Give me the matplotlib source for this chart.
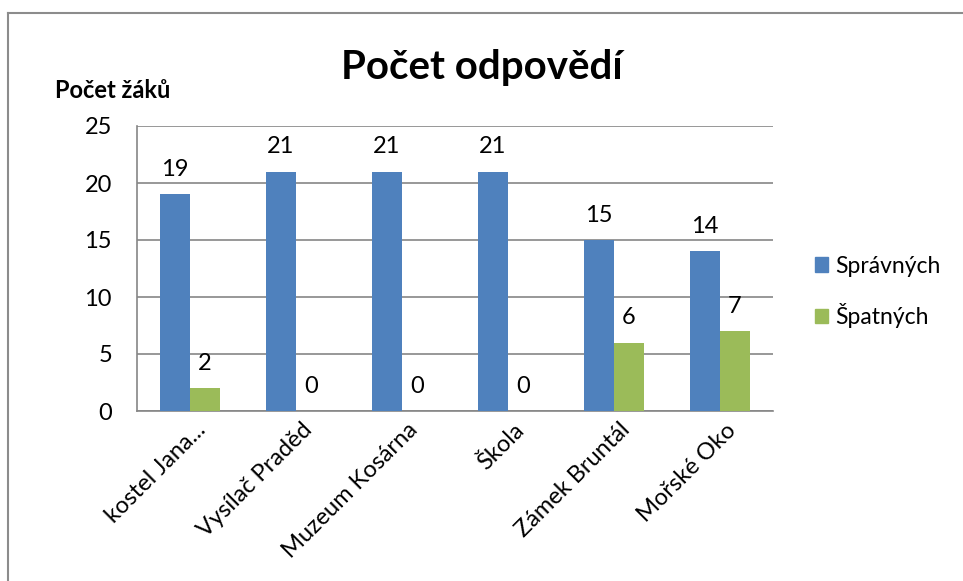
import numpy as np
import matplotlib.pyplot as plt
from matplotlib.lines import Line2D
from matplotlib.patches import Patch

plt.rcParams['font.family'] = ['Lato', 'DejaVu Sans']

categories = ['kostel Jana...', 'Vysílač Praděd', 'Muzeum Kosárna', 'Škola', 'Zámek Bruntál', 'Mořské Oko']
spravnych = [19, 21, 21, 21, 15, 14]
spatnych = [2, 0, 0, 0, 6, 7]
yticks = [0, 5, 10, 15, 20, 25]

blue = '#4F81BD'
green = '#9BBB59'
W, H = 963, 581

fig = plt.figure(figsize=(W / 100, H / 100), dpi=100)
ax = fig.add_axes([137 / W, 1 - 411 / H, (773 - 137) / W, (411 - 126) / H])

x = np.arange(len(categories))
width = 0.283

b1 = ax.bar(x - width / 2, spravnych, width=width, color=blue, zorder=3)
b2 = ax.bar(x + width / 2, spatnych, width=width, color=green, zorder=3)

for bars, vals in [(b1, spravnych), (b2, spatnych)]:
    for bar, v in zip(bars, vals):
        ax.text(bar.get_x() + bar.get_width() / 2, v + 1.25, str(v),
                ha='center', va='bottom', fontsize=17, color='black')

ax.set_xlim(-0.5, len(categories) - 0.5)
ax.set_ylim(0, 25)
ax.set_yticks(yticks)
ax.set_yticklabels([str(t) for t in yticks], fontsize=17)
ax.tick_params(axis='y', length=0, pad=18)
ax.tick_params(axis='x', length=0, pad=6)
ax.set_xticks(x + 0.05)
ax.set_xticklabels(categories, rotation=45, ha='right', rotation_mode='anchor', fontsize=17)

ax.grid(axis='y', color='#868686', linewidth=1.2, zorder=0)
for side in ['top', 'right', 'left']:
    ax.spines[side].set_visible(False)
ax.spines['bottom'].set_color('#868686')
ax.spines['bottom'].set_linewidth(1.2)

# left axis line
ax.plot([-0.5, -0.5], [0, 25], color='#868686', linewidth=1.2, clip_on=False, zorder=4)

fig.text(482 / W, 1 - 68 / H, 'Počet odpovědí', ha='center', va='center',
         fontsize=29, fontweight='bold')
fig.text(55 / W, 1 - 90 / H, 'Počet žáků', ha='left', va='center',
         fontsize=17, fontweight='bold')

handles = [Patch(color=blue, label='Správných'), Patch(color=green, label='Špatných')]
fig.legend(handles=handles, loc='center left', bbox_to_anchor=(794 / W, 1 - 292 / H),
           frameon=False, fontsize=16.5, handlelength=0.6, handleheight=0.6,
           handletextpad=0.3, labelspacing=1.15)

# outer chart border
fig.add_artist(Line2D([8 / W, 8 / W], [0, 1 - 13 / H], transform=fig.transFigure,
                      color='#8c8c8c', linewidth=1.5))
fig.add_artist(Line2D([8 / W, 1], [1 - 13 / H, 1 - 13 / H], transform=fig.transFigure,
                      color='#8c8c8c', linewidth=1.5))

fig.savefig('out.png', dpi=100)
